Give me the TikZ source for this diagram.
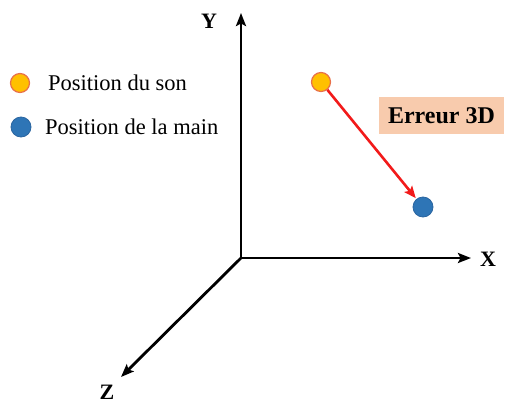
\documentclass[tikz,border=0pt]{standalone}
\usepackage{fontspec}
\setmainfont{Liberation Serif}
\usetikzlibrary{arrows.meta}
\definecolor{sonfill}{HTML}{FFC000}
\definecolor{sonedge}{HTML}{E8704A}
\definecolor{mainfill}{HTML}{2E75B6}
\definecolor{mainedge}{HTML}{2A65A0}
\definecolor{errfill}{HTML}{F8CBAD}
\definecolor{errred}{HTML}{F21A1A}
\tikzset{
  axis/.style={line width=2.8pt,-{Stealth[length=13pt,width=10pt,inset=2.5pt]}},
  axlabel/.style={font=\fontsize{22}{22}\selectfont\bfseries, inner sep=0pt},
  sondot/.style={circle, minimum size=19pt, inner sep=0pt, fill=sonfill, draw=sonedge, line width=1.2pt},
  maindot/.style={circle, minimum size=20pt, inner sep=0pt, fill=mainfill, draw=mainedge, line width=0.8pt},
  legtext/.style={font=\fontsize{22.5}{22.5}\selectfont, anchor=west, inner sep=0pt},
  errbox/.style={fill=errfill, minimum width=125pt, minimum height=37pt, inner sep=0pt, font=\fontsize{24}{24}\selectfont\bfseries},
  errarrow/.style={draw=errred, line width=2.6pt, -{Stealth[length=12pt,width=10pt,inset=2.5pt]}, shorten >=1pt}
}
\begin{document}
\begin{tikzpicture}[x=1pt,y=-1pt]
\useasboundingbox (0,0) rectangle (507,405);
% axes
\coordinate (O) at (241,258);
\coordinate (Ytip) at (241,13);
\coordinate (Xtip) at (471,258);
\coordinate (Ztip) at (121,377);
\draw[axis] (O) -- (Ytip);
\draw[axis] (O) -- (Xtip);
\draw[axis] (O) -- (Ztip);
\node[axlabel] (Y) at (209,21) {Y};
\node[axlabel] (X) at (488,259) {X};
\node[axlabel] (Z) at (107,392) {Z};
% legend
\node[sondot] (ls) at (20,83) {};
\node[maindot] (lm) at (21,127) {};
\node[legtext] (lst) at (48,83) {Position du son};
\node[legtext] (lmt) at (45,127) {Position de la main};
% points
\node[sondot] (son) at (321,82) {};
\node[maindot] (main) at (423,207) {};
\draw[errarrow] (son) -- (main);
\node[errbox] (err) at (441.5,115.5) {Erreur 3D};
\end{tikzpicture}
\end{document}
